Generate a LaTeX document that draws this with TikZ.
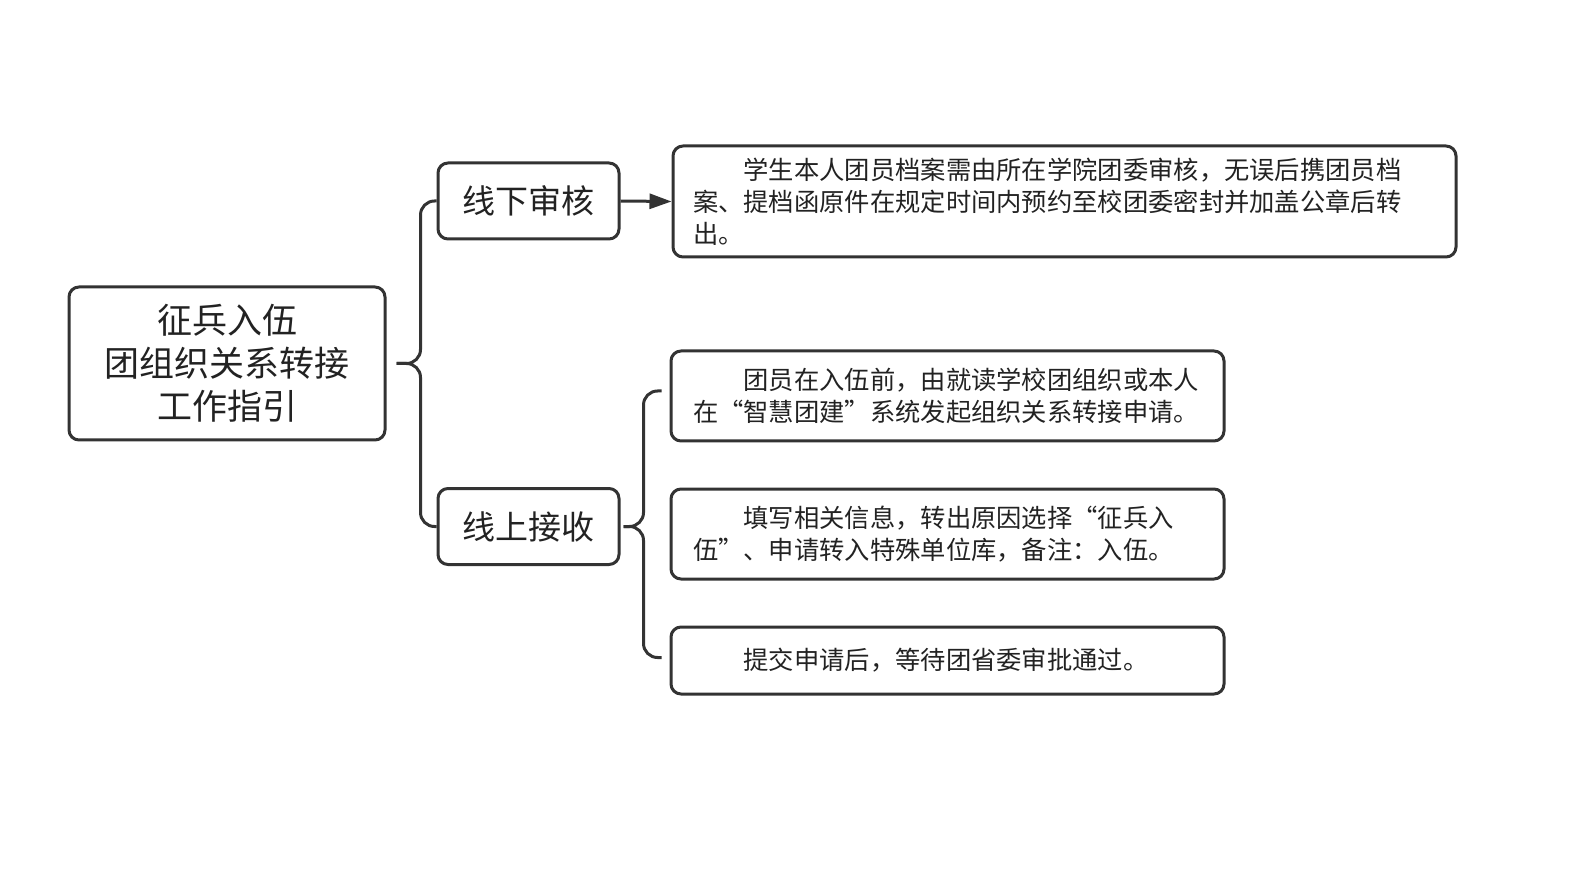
\documentclass[tikz,border=0pt]{standalone}
\usepackage{fontspec}
\setmainfont{Noto Sans CJK SC}
\usetikzlibrary{arrows.meta,calc}
\definecolor{ln}{HTML}{333333}
\definecolor{tx}{HTML}{222222}
\begin{document}
\begin{tikzpicture}[x=0.5pt,y=-0.5pt,
  box/.style={draw=ln,line width=1.5pt,rounded corners=5pt,text=tx,inner sep=0pt},
  conn/.style={draw=ln,line width=1.5pt},
  midbox/.style={box,minimum width=90.5pt,minimum height=38pt,font=\fontsize{16.5}{20}\selectfont},
  leaf/.style={box,align=left,font=\fontsize{12.65}{16}\selectfont}]
\useasboundingbox (0,0) rectangle (1572,876);
\node[box,minimum width=158pt,minimum height=76.5pt,align=center,font=\fontsize{17.5}{21.5}\selectfont] (root) at (227,363.5) {征兵入伍\\团组织关系转接\\工作指引};
\node[midbox] (m1) at (528.5,201) {线下审核};
\node[midbox] (m2) at (528.5,526.5) {线上接收};
\node[leaf,minimum width=391.5pt,minimum height=55.5pt,text width=371.5pt] (a) at (1064.5,201.5) {\hspace*{2em}学生本人团员档案需由所在学院团委审核，无误后携团员档\\案、提档函原件在规定时间内预约至校团委密封并加盖公章后转\\出。};
\node[leaf,minimum width=276.5pt,minimum height=45pt,text width=254.5pt] (b1) at (947.5,396) {\hspace*{2em}团员在入伍前，由就读学校团组织或本人\\在“智慧团建”系统发起组织关系转接申请。};
\node[leaf,minimum width=276.5pt,minimum height=45pt,text width=254.5pt] (b2) at (947.5,534) {\hspace*{2em}填写相关信息，转出原因选择“征兵入\\伍”、申请转入特殊单位库，备注：入伍。};
\node[leaf,minimum width=276.5pt,minimum height=33.5pt,text width=254.5pt] (b3) at (947.5,660.5) {\hspace*{2em}提交申请后，等待团省委审批通过。};
\coordinate (t1) at ($(root.east)+(10,0)$);
\coordinate (t2) at ($(m2.east)+(3,0)$);
\draw[conn,rounded corners=7pt] (m1.west) -- ++(-16,0) |- (t1);
\draw[conn,rounded corners=7pt] (m2.west) -- ++(-16,0) |- (t1);
\draw[conn,rounded corners=7pt] ($(b1.west)+(-8,-5)$) -- ++(-18,0) |- (t2);
\draw[conn,rounded corners=7pt] ($(b3.west)+(-8,-3)$) -- ++(-18,0) |- (t2);
\draw[conn,-{Triangle[length=11pt,width=7.5pt]}] (m1.east) -- (a.west);
\end{tikzpicture}
\end{document}
